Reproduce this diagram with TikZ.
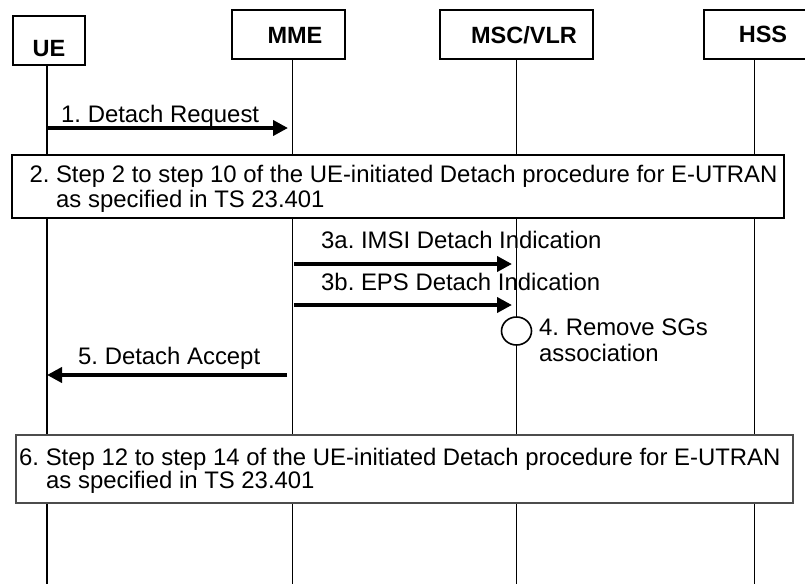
\documentclass[tikz,border=0pt]{standalone}
\usepackage{fontspec}
\setmainfont{Liberation Sans}
\usetikzlibrary{arrows.meta,shapes.geometric}
\begin{document}
\frenchspacing
\begin{tikzpicture}[x=1pt,y=-1pt,
  font=\fontsize{23.9}{26}\selectfont,
  party/.style={draw,line width=1.8pt,fill=white,inner sep=0},
  pname/.style={font=\fontsize{23.5}{26}\selectfont\bfseries,inner sep=0},
  life/.style={line width=1.6pt},
  msg/.style={line width=4pt,-{Triangle[length=15pt,width=15pt]}},
  lbl/.style={anchor=base west,inner sep=0},
  stepbox/.style={draw,fill=white,inner sep=0}]
\useasboundingbox (0,0) rectangle (805,584);
% lifeline coordinates
\coordinate (ueT) at (47,65);   \coordinate (ueB) at (47,584);
\coordinate (mmeT) at (292.5,59); \coordinate (mmeB) at (292.5,584);
\coordinate (mscT) at (516.5,59); \coordinate (mscB) at (516.5,584);
\coordinate (hssT) at (754.5,59); \coordinate (hssB) at (754.5,584);
\draw[life] (ueT) -- (ueB);
\draw[life] (mmeT) -- (mmeB);
\draw[life] (mscT) -- (mscB);
\draw[life] (hssT) -- (hssB);
% participants
\node[party,minimum width=72pt,minimum height=49pt] (ue) at (49,40.5) {};
\node[pname] (uet) at (49,49) {UE};
\node[party,minimum width=113pt,minimum height=49pt] (mme) at (288.5,34.5) {};
\node[pname] (mmet) at (295,35) {MME};
\node[party,minimum width=153pt,minimum height=49pt] (msc) at (516.5,34.5) {};
\node[pname] (msct) at (524,35) {MSC/VLR};
\node[party,minimum width=118pt,minimum height=49pt] (hss) at (763,34.5) {};
\node[pname] (hsst) at (763,34) {HSS};
% 1
\coordinate (m1s) at (47,128); \coordinate (m1e) at (288,128);
\draw[msg] (m1s) -- (m1e);
\node[lbl] (l1) at (61,122) {1. Detach Request};
% box 2
\node[stepbox,line width=1.8pt,minimum width=772pt,minimum height=62.7pt] (b2) at (398,186.4) {};
\node[lbl] (b2a) at (29.3,182.7) {2. Step 2 to step 10 of the UE-initiated Detach procedure for E-UTRAN};
\node[lbl] (b2b) at (56,207.5) {as specified in TS 23.401};
% 3a, 3b
\coordinate (m3as) at (294,264); \coordinate (m3ae) at (512,264);
\draw[msg] (m3as) -- (m3ae);
\node[lbl] (l3a) at (321,248) {3a. IMSI Detach Indication};
\coordinate (m3bs) at (294,305); \coordinate (m3be) at (512,305);
\draw[msg] (m3bs) -- (m3be);
\node[lbl] (l3b) at (321,290) {3b. EPS Detach Indication};
% 4
\node[draw,line width=1.6pt,fill=white,ellipse,minimum width=30pt,minimum height=28pt,inner sep=0] (c4) at (516.5,331) {};
\node[lbl] (l4a) at (539,335) {4. Remove SGs};
\node[lbl] (l4b) at (539,361) {association};
% 5
\coordinate (m5s) at (287,375); \coordinate (m5e) at (47,375);
\draw[msg] (m5s) -- (m5e);
\node[lbl] (l5) at (78,364) {5. Detach Accept};
% box 6
\node[stepbox,draw=black!70,line width=1.3pt,minimum width=777pt,minimum height=68pt] (b6) at (404.5,469) {};
\node[lbl] (b6a) at (19,465) {6. Step 12 to step 14 of the UE-initiated Detach procedure for E-UTRAN};
\node[lbl] (b6b) at (46,488) {as specified in TS 23.401};
\end{tikzpicture}
\end{document}
